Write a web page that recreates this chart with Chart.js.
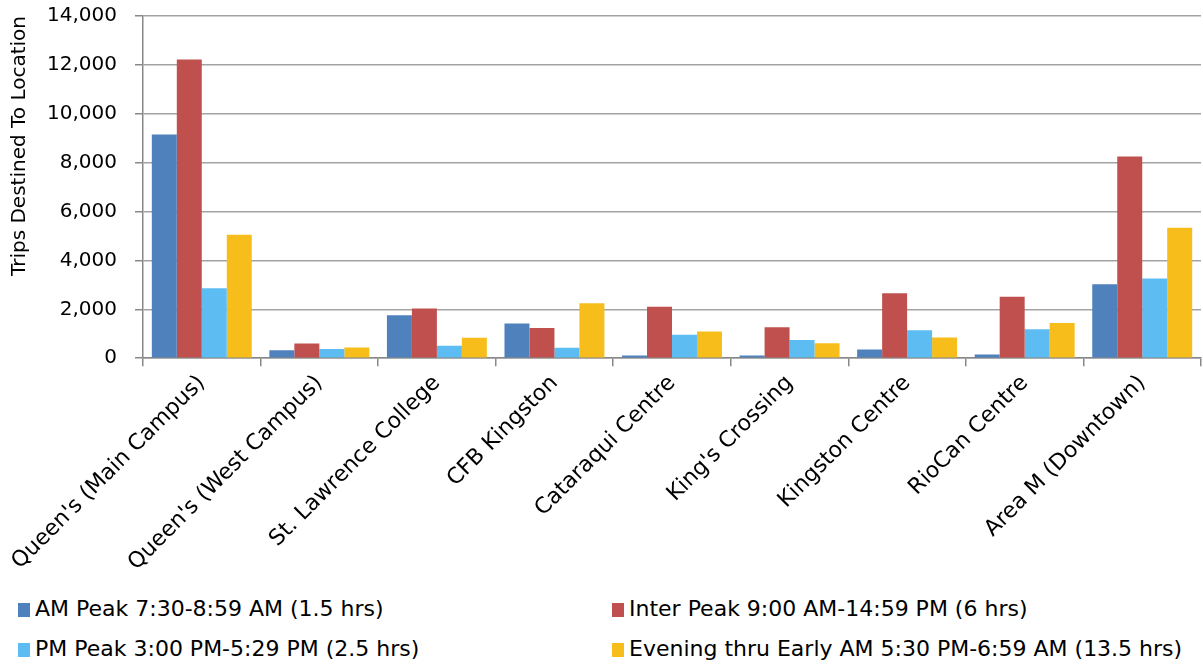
<!DOCTYPE html>
<html>
<head>
<meta charset="utf-8">
<script src="https://cdn.jsdelivr.net/npm/chart.js@4.4.0/dist/chart.umd.min.js"></script>
<style>
  body { margin: 0; background: #fff; font-family: "DejaVu Sans", sans-serif; overflow: hidden; }
  #wrap { position: relative; width: 1203px; height: 598px; margin-top: -14px; }
  #legend { position: absolute; left: 0; top: 596px; width: 1203px; }
  .item { position: absolute; font-size: 22px; color: #000; white-space: nowrap; line-height: 26px; }
  .item span.sw { display: inline-block; width: 12px; height: 14px; margin-right: 5px; vertical-align: -1px; }
</style>
</head>
<body>
<div id="wrap"><canvas id="myChart"></canvas></div>
<div id="legend"></div>
<script>
const locations = ["Queen's (Main Campus)", "Queen's (West Campus)", 'St. Lawrence College', 'CFB Kingston',
  'Cataraqui Centre', "King's Crossing", 'Kingston Centre', 'RioCan Centre', 'Area M (Downtown)']
const seriesNames = ['AM Peak 7:30-8:59 AM (1.5 hrs)', 'Inter Peak 9:00 AM-14:59 PM (6 hrs)',
  'PM Peak 3:00 PM-5:29 PM (2.5 hrs)', 'Evening thru Early AM 5:30 PM-6:59 AM (13.5 hrs)']
const amPeak = [9150, 320, 1760, 1420, 110, 110, 360, 150, 3030]
const interPeak = [12220, 600, 2030, 1230, 2100, 1270, 2660, 2510, 8250]
const pmPeak = [2860, 380, 510, 430, 960, 740, 1140, 1180, 3260]
const evening = [5050, 440, 840, 2250, 1090, 610, 850, 1440, 5340]
const colors = ['#4F81BD', '#C0504D', '#5DBDF2', '#F6BD1B']

const ctx = document.getElementById('myChart')
const values = [amPeak, interPeak, pmPeak, evening]

const myChart = new Chart(ctx, {
  type: 'bar',
  data: {
    labels: locations,
    datasets: values.map((v, i) => ({
      label: seriesNames[i],
      data: v,
      backgroundColor: colors[i],
      borderWidth: 0,
      categoryPercentage: 0.85,
      barPercentage: 1
    }))
  },
  options: {
    responsive: true,
    maintainAspectRatio: false,
    animation: false,
    layout: { padding: { top: 2, right: 2, left: 4, bottom: 4 } },
    plugins: { legend: { display: false }, tooltip: { enabled: false } },
    scales: {
      x: {
        grid: { offset: true, drawOnChartArea: false, tickLength: 8, color: '#888', lineWidth: 1.5 },
        border: { color: '#888', width: 1.5 },
        ticks: {
          color: '#000', font: { family: 'DejaVu Sans', size: 22 },
          minRotation: 45, maxRotation: 45, autoSkip: false, padding: 4
        }
      },
      y: {
        min: 0, max: 14000,
        afterFit: s => { s.width = 139 },
        grid: { color: '#a3a3a3', lineWidth: 1.5, tickLength: 8, tickColor: '#888' },
        border: { color: '#888', width: 1.5 },
        ticks: { stepSize: 2000, color: '#000', padding: 18, font: { family: 'DejaVu Sans', size: 20 } },
        title: {
          display: true, text: 'Trips Destined To Location', color: '#000', align: 'end',
          font: { family: 'DejaVu Sans', size: 20 }, padding: 4
        }
      }
    }
  }
})

// legend in two columns under the chart
const legend = document.getElementById('legend')
const pos = [[18, 0], [612, 0], [18, 40], [612, 40]]
myChart.data.datasets.forEach((ds, i) => {
  const d = document.createElement('div')
  d.className = 'item'
  d.style.left = pos[i][0] + 'px'
  d.style.top = pos[i][1] + 'px'
  d.innerHTML = '<span class="sw" style="background:' + ds.backgroundColor + '"></span>' + ds.label
  legend.appendChild(d)
})
</script>
</body>
</html>
